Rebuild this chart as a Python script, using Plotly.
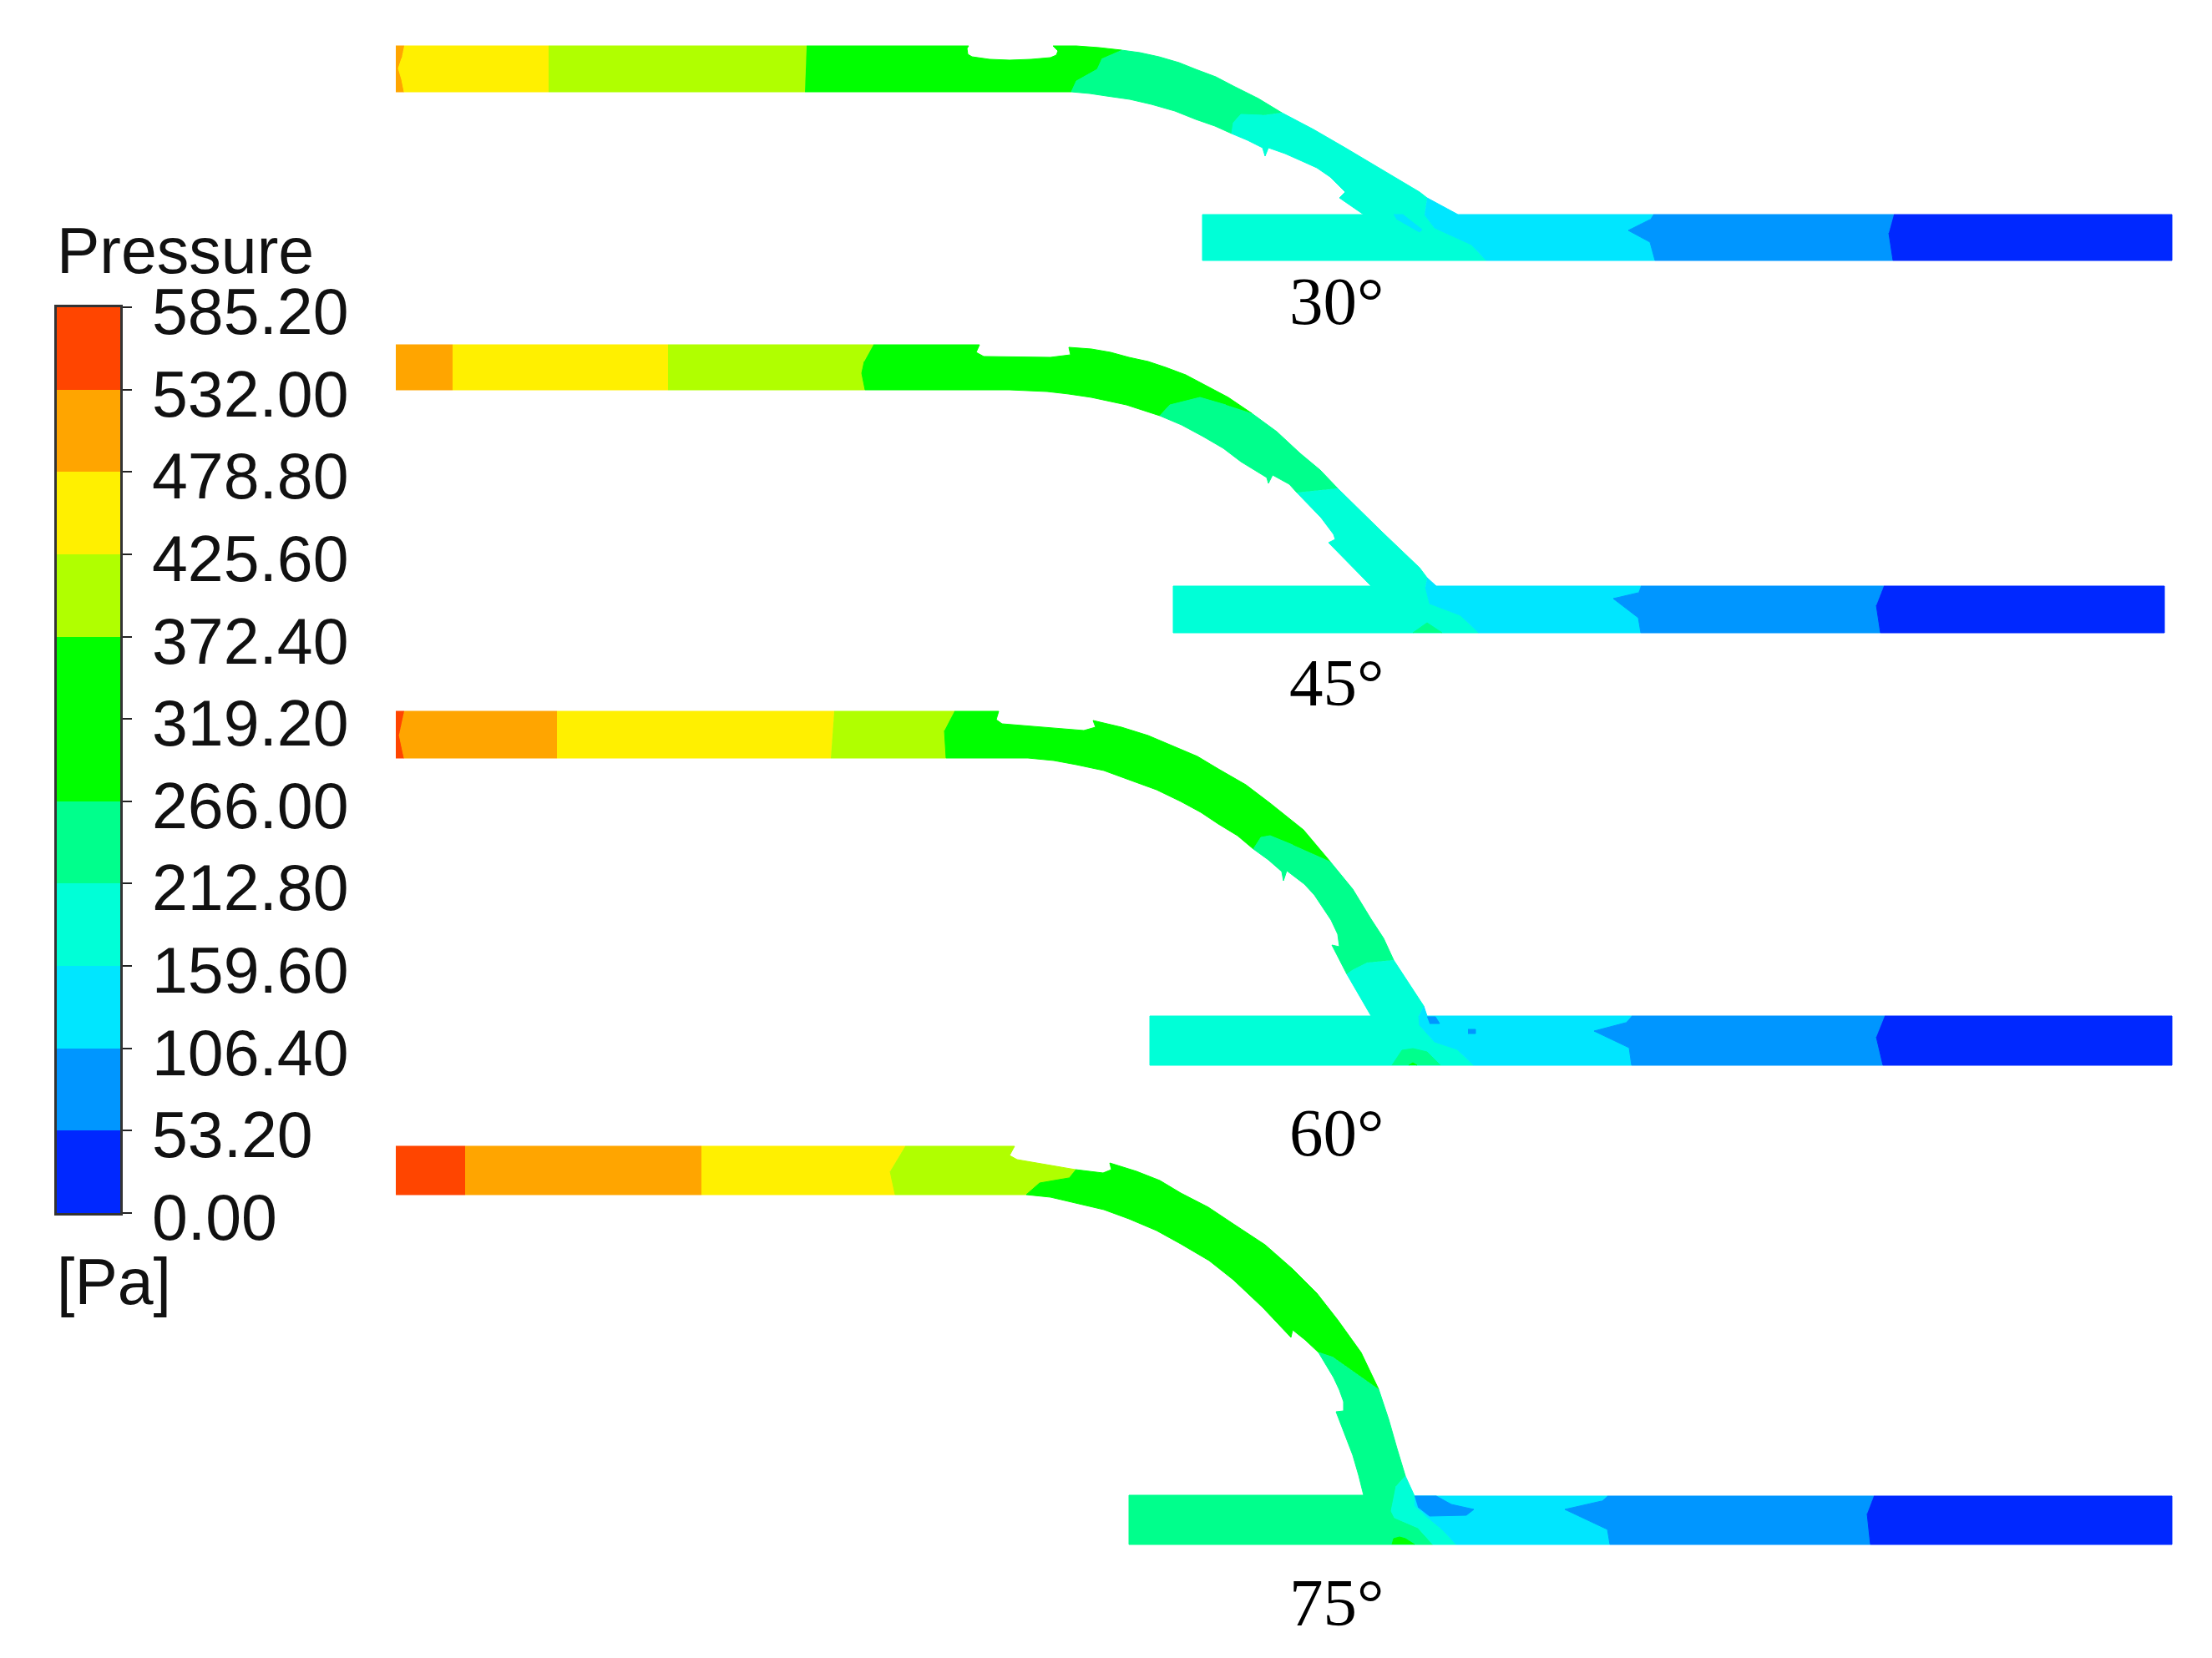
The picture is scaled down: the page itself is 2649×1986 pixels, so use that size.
import plotly.graph_objects as go

# legend
levels = [0.00, 53.20, 106.40, 159.60, 212.80, 266.00, 319.20, 372.40, 425.60, 478.80, 532.00, 585.20]
level_labels = ['0.00', '53.20', '106.40', '159.60', '212.80', '266.00', '319.20', '372.40', '425.60', '478.80', '532.00', '585.20']
band_colors = ['#0028ff', '#0096ff', '#00e6ff', '#00ffd7', '#00ff8c', '#00ff00',
               '#00ff00', '#b0ff00', '#fff000', '#ffa500', '#ff4500']

BLUE, LIGHTBLUE, CYAN, TEAL, TEALGREEN, GREEN, GREEN2, LIME, YELLOW, ORANGE, RED = range(11)

case_labels = ['30°', '45°', '60°', '75°']
case_label_x = [1600, 1600, 1600, 1600]
case_label_y = [361, 818, 1357, 1920]

# 30 degrees
x30_orange = [474, 484, 481, 477, 481, 484, 474]
y30_orange = [55, 55, 70, 82, 95, 110, 110]
x30_yellow = [484, 657, 657, 484, 481, 477, 481]
y30_yellow = [55, 55, 110, 110, 95, 82, 70]
x30_lime = [657, 966, 964, 657]
y30_lime = [55, 55, 110, 110]
x30_green = [966, 1160, 1158, 1159, 1164, 1185, 1209, 1235, 1258, 1265, 1267, 1261, 1289, 1316, 1343, 1320, 1314, 1289, 1283, 964]
y30_green = [55, 55, 58, 65, 68, 71, 72, 71, 69, 66, 61, 55, 55, 57, 60, 70, 83, 97, 110, 110]
x30_tealgreen = [1343, 1365, 1388, 1412, 1432, 1456, 1477, 1507, 1535, 1512, 1486, 1477, 1475, 1455, 1432, 1407, 1379, 1353, 1325, 1305, 1283, 1289, 1314, 1320]
y30_tealgreen = [60, 63, 68, 75, 83, 92, 103, 118, 135, 138, 137, 147, 160, 151, 143, 133, 125, 119, 115, 112, 110, 97, 83, 70]
x30_teal = [1535, 1573, 1611, 1655, 1700, 1709, 1706, 1718, 1762, 1780, 1440, 1440, 1633, 1604, 1611, 1593, 1577, 1557, 1539, 1519, 1515, 1512, 1494, 1475, 1477, 1486, 1512]
y30_teal = [135, 155, 177, 203, 230, 237, 257, 273, 293, 312, 312, 257, 257, 237, 230, 212, 201, 192, 184, 177, 187, 177, 168, 160, 147, 137, 138]
x30_cyan = [1709, 1746, 1980, 1976, 1950, 1976, 1982, 1780, 1762, 1718, 1706]
y30_cyan = [237, 257, 257, 263, 276, 290, 312, 312, 293, 273, 257]
x30_cyan_spot = [1669, 1680, 1703, 1700, 1672]
y30_cyan_spot = [257, 257, 275, 278, 262]
x30_lightblue = [1980, 2268, 2262, 2267, 1982, 1976, 1950, 1976]
y30_lightblue = [257, 257, 279, 312, 312, 290, 276, 263]
x30_blue = [2268, 2601, 2601, 2267, 2262]
y30_blue = [257, 257, 312, 312, 279]

# 45 degrees
x45_orange = [474, 542, 542, 474]
y45_orange = [413, 413, 467, 467]
x45_yellow = [542, 800, 800, 542]
y45_yellow = [413, 413, 467, 467]
x45_lime = [800, 1046, 1035, 1032, 1036, 800]
y45_lime = [413, 413, 433, 447, 467, 467]
x45_green = [1046, 1173, 1169, 1178, 1258, 1282, 1280, 1307, 1330, 1352, 1375, 1396, 1420, 1441, 1471, 1499, 1468, 1437, 1401, 1389, 1349, 1307, 1280, 1254, 1209, 1036, 1032, 1035]
y45_green = [413, 413, 422, 427, 428, 425, 416, 418, 422, 428, 433, 440, 449, 460, 476, 495, 485, 476, 485, 498, 485, 476, 472, 469, 467, 467, 447, 433]
x45_tealgreen = [1499, 1529, 1557, 1581, 1602, 1553, 1544, 1524, 1519, 1517, 1486, 1465, 1441, 1415, 1389, 1401, 1437, 1468]
y45_tealgreen = [495, 517, 543, 563, 585, 590, 580, 569, 579, 572, 553, 537, 523, 509, 498, 485, 476, 485]
x45_teal = [1602, 1655, 1700, 1709, 1707, 1712, 1749, 1771, 1405, 1405, 1642, 1591, 1599, 1597, 1582, 1566, 1553]
y45_teal = [585, 637, 680, 692, 703, 723, 737, 758, 758, 702, 702, 650, 646, 640, 620, 603, 590]
x45_teal_spot = [1692, 1709, 1727]
y45_teal_spot = [758, 746, 758]
x45_cyan = [1709, 1720, 1965, 1962, 1932, 1962, 1965, 1771, 1749, 1712, 1707]
y45_cyan = [692, 702, 702, 710, 717, 740, 758, 758, 737, 723, 703]
x45_lightblue = [1965, 2256, 2247, 2252, 1965, 1962, 1932, 1962]
y45_lightblue = [702, 702, 725, 758, 758, 740, 717, 710]
x45_blue = [2256, 2592, 2592, 2252, 2247]
y45_blue = [702, 702, 758, 758, 725]

# 60 degrees
x60_red = [474, 484, 478, 484, 474]
y60_red = [852, 852, 880, 908, 908]
x60_orange = [484, 667, 667, 484, 478]
y60_orange = [852, 852, 908, 908, 880]
x60_yellow = [667, 999, 995, 667]
y60_yellow = [852, 852, 908, 908]
x60_lime = [999, 1143, 1131, 1133, 995]
y60_lime = [852, 852, 875, 908, 908]
x60_green = [1143, 1196, 1193, 1200, 1298, 1312, 1309, 1343, 1375, 1405, 1434, 1459, 1492, 1521, 1561, 1593, 1548, 1521, 1510, 1501, 1482, 1459, 1438, 1414, 1385, 1352, 1322, 1289, 1262, 1231, 1133, 1131]
y60_green = [852, 852, 862, 867, 875, 871, 863, 871, 881, 894, 906, 921, 940, 962, 994, 1032, 1012, 1001, 1003, 1017, 1001, 987, 973, 960, 946, 934, 923, 916, 911, 908, 908, 875]
x60_tealgreen = [1593, 1620, 1642, 1657, 1669, 1638, 1620, 1613, 1595, 1604, 1602, 1594, 1584, 1574, 1562, 1541, 1537, 1535, 1519, 1501, 1510, 1521, 1548]
y60_tealgreen = [1032, 1065, 1101, 1124, 1150, 1153, 1162, 1167, 1132, 1134, 1119, 1102, 1087, 1072, 1059, 1043, 1055, 1044, 1030, 1017, 1003, 1001, 1012]
x60_teal = [1669, 1705, 1699, 1700, 1718, 1745, 1765, 1377, 1377, 1642, 1613, 1620, 1638]
y60_teal = [1150, 1205, 1217, 1228, 1248, 1257, 1276, 1276, 1217, 1217, 1167, 1162, 1153]
x60_teal_spot = [1667, 1679, 1692, 1709, 1725]
y60_teal_spot = [1276, 1258, 1256, 1260, 1276]
x60_green_spot = [1687, 1692, 1697]
y60_green_spot = [1276, 1273, 1276]
x60_cyan = [1705, 1709, 1954, 1947, 1909, 1951, 1954, 1765, 1745, 1718, 1700, 1699]
y60_cyan = [1205, 1217, 1217, 1225, 1235, 1255, 1276, 1276, 1257, 1248, 1228, 1217]
x60_speck_a = [1709, 1719, 1724, 1712]
y60_speck_a = [1218, 1218, 1226, 1226]
x60_speck_b = [1758, 1767, 1767, 1758]
y60_speck_b = [1233, 1233, 1238, 1238]
x60_lightblue = [1954, 2257, 2247, 2255, 1954, 1951, 1909, 1947]
y60_lightblue = [1217, 1217, 1242, 1276, 1276, 1255, 1235, 1225]
x60_blue = [2257, 2601, 2601, 2255, 2247]
y60_blue = [1217, 1217, 1276, 1276, 1242]

# 75 degrees
x75_red = [474, 557, 557, 474]
y75_red = [1373, 1373, 1431, 1431]
x75_orange = [557, 840, 840, 557]
y75_orange = [1373, 1373, 1431, 1431]
x75_yellow = [840, 1084, 1066, 1072, 840]
y75_yellow = [1373, 1373, 1403, 1431, 1431]
x75_lime = [1084, 1215, 1209, 1218, 1288, 1280, 1245, 1229, 1072, 1066]
y75_lime = [1373, 1373, 1384, 1389, 1401, 1411, 1417, 1431, 1431, 1403]
x75_green = [1288, 1321, 1331, 1329, 1361, 1389, 1414, 1447, 1477, 1515, 1548, 1577, 1602, 1630, 1651, 1597, 1579, 1563, 1548, 1546, 1512, 1477, 1448, 1414, 1385, 1352, 1322, 1289, 1258, 1229, 1245, 1280]
y75_green = [1401, 1405, 1401, 1393, 1403, 1414, 1429, 1446, 1466, 1491, 1520, 1549, 1581, 1620, 1664, 1626, 1620, 1605, 1593, 1602, 1566, 1533, 1510, 1490, 1474, 1460, 1449, 1441, 1434, 1431, 1417, 1411]
x75_tealgreen = [1651, 1663, 1673, 1683, 1672, 1666, 1670, 1698, 1716, 1352, 1352, 1633, 1627, 1620, 1600, 1609, 1609, 1604, 1597, 1579, 1597]
y75_tealgreen = [1664, 1700, 1735, 1768, 1780, 1810, 1818, 1830, 1850, 1850, 1791, 1791, 1767, 1743, 1691, 1690, 1679, 1665, 1650, 1620, 1626]
x75_green_spot = [1667, 1669, 1676, 1683, 1694]
y75_green_spot = [1850, 1843, 1841, 1843, 1850]
x75_teal = [1683, 1694, 1694, 1709, 1727, 1744, 1716, 1698, 1670, 1666, 1672]
y75_teal = [1768, 1792, 1803, 1817, 1832, 1850, 1850, 1830, 1818, 1810, 1780]
x75_cyan = [1694, 1925, 1918, 1874, 1925, 1928, 1744, 1727, 1709, 1694]
y75_cyan = [1792, 1792, 1798, 1808, 1832, 1850, 1850, 1832, 1817, 1803]
x75_lens = [1694, 1720, 1738, 1765, 1756, 1712, 1698]
y75_lens = [1792, 1792, 1802, 1808, 1815, 1816, 1805]
x75_lightblue = [1925, 2244, 2236, 2240, 1928, 1925, 1874, 1918]
y75_lightblue = [1792, 1792, 1813, 1850, 1850, 1832, 1808, 1798]
x75_blue = [2244, 2601, 2601, 2240, 2236]
y75_blue = [1792, 1792, 1850, 1850, 1813]

regions = [
    (ORANGE, x30_orange, y30_orange), (YELLOW, x30_yellow, y30_yellow), (LIME, x30_lime, y30_lime),
    (GREEN, x30_green, y30_green), (TEALGREEN, x30_tealgreen, y30_tealgreen), (TEAL, x30_teal, y30_teal),
    (CYAN, x30_cyan, y30_cyan), (CYAN, x30_cyan_spot, y30_cyan_spot),
    (LIGHTBLUE, x30_lightblue, y30_lightblue), (BLUE, x30_blue, y30_blue),

    (ORANGE, x45_orange, y45_orange), (YELLOW, x45_yellow, y45_yellow), (LIME, x45_lime, y45_lime),
    (GREEN, x45_green, y45_green), (TEALGREEN, x45_tealgreen, y45_tealgreen), (TEAL, x45_teal, y45_teal),
    (TEALGREEN, x45_teal_spot, y45_teal_spot), (CYAN, x45_cyan, y45_cyan),
    (LIGHTBLUE, x45_lightblue, y45_lightblue), (BLUE, x45_blue, y45_blue),

    (RED, x60_red, y60_red), (ORANGE, x60_orange, y60_orange), (YELLOW, x60_yellow, y60_yellow),
    (LIME, x60_lime, y60_lime), (GREEN, x60_green, y60_green), (TEALGREEN, x60_tealgreen, y60_tealgreen),
    (TEAL, x60_teal, y60_teal), (TEALGREEN, x60_teal_spot, y60_teal_spot), (GREEN, x60_green_spot, y60_green_spot),
    (CYAN, x60_cyan, y60_cyan), (LIGHTBLUE, x60_speck_a, y60_speck_a), (LIGHTBLUE, x60_speck_b, y60_speck_b),
    (LIGHTBLUE, x60_lightblue, y60_lightblue), (BLUE, x60_blue, y60_blue),

    (RED, x75_red, y75_red), (ORANGE, x75_orange, y75_orange), (YELLOW, x75_yellow, y75_yellow),
    (LIME, x75_lime, y75_lime), (GREEN, x75_green, y75_green), (TEALGREEN, x75_tealgreen, y75_tealgreen),
    (GREEN, x75_green_spot, y75_green_spot), (TEAL, x75_teal, y75_teal), (CYAN, x75_cyan, y75_cyan),
    (LIGHTBLUE, x75_lightblue, y75_lightblue), (LIGHTBLUE, x75_lens, y75_lens), (BLUE, x75_blue, y75_blue),
]

W, H = 2649, 1986
sans = 'Liberation Sans'
serif = 'Liberation Serif'

fig = go.Figure()

for band, xs, ys in regions:
    fig.add_trace(go.Scatter(x=xs, y=ys, mode='lines', fill='toself', fillcolor=band_colors[band],
                             line=dict(color=band_colors[band], width=1), hoverinfo='skip', showlegend=False))

# color key, stepped heatmap on its own axes
mids = [(a + b) / 2 for a, b in zip(levels[:-1], levels[1:])]
scale = []
for i, c in enumerate(band_colors):
    scale += [[i / 11, c], [(i + 1) / 11, c]]
fig.add_trace(go.Heatmap(x=[0], y=mids, z=[[m] for m in mids], colorscale=scale, zmin=0, zmax=levels[-1],
                         showscale=False, xaxis='x2', yaxis='y2', hoverinfo='skip'))

annotations = []
for t, v in zip(level_labels, levels):
    annotations.append(dict(x=180 / W, xref='paper', y=v, yref='y2', yshift=-5, text=t, showarrow=False,
                            xanchor='left', yanchor='middle', font=dict(family=sans, size=77, color='#111111')))
annotations.append(dict(x=66 / W, xref='paper', y=1 - 300 / H, yref='paper', text='Pressure', showarrow=False,
                        xanchor='left', yanchor='middle', font=dict(family=sans, size=77, color='#111111')))
annotations.append(dict(x=66 / W, xref='paper', y=1 - 1535 / H, yref='paper', text='[Pa]', showarrow=False,
                        xanchor='left', yanchor='middle', font=dict(family=sans, size=77, color='#111111')))
for t, x, y in zip(case_labels, case_label_x, case_label_y):
    annotations.append(dict(x=x, y=y, xref='x', yref='y', text=t, showarrow=False,
                            font=dict(family=serif, size=81, color='black')))

fig.update_layout(
    width=W, height=H, margin=dict(l=0, r=0, t=0, b=0),
    paper_bgcolor='white', plot_bgcolor='white', showlegend=False,
    xaxis=dict(range=[0, W], visible=False, domain=[0, 1]),
    yaxis=dict(range=[H, 0], visible=False, domain=[0, 1]),
    xaxis2=dict(domain=[68 / W, 144 / W], range=[-0.5, 0.5], anchor='y2', showticklabels=False, ticks='',
                showline=True, mirror=True, linecolor='#333333', linewidth=3, showgrid=False, zeroline=False),
    yaxis2=dict(domain=[1 - 1453 / H, 1 - 368 / H], range=[levels[0], levels[-1]], anchor='x2', side='right',
                tickvals=levels, ticks='outside', ticklen=11, tickwidth=2, tickcolor='#222222',
                showticklabels=False, showline=True, mirror=True, linecolor='#333333', linewidth=3,
                showgrid=False, zeroline=False),
    annotations=annotations,
)

fig.write_html('out.html', config={'displayModeBar': False}, post_script="document.body.style.margin='0';")
